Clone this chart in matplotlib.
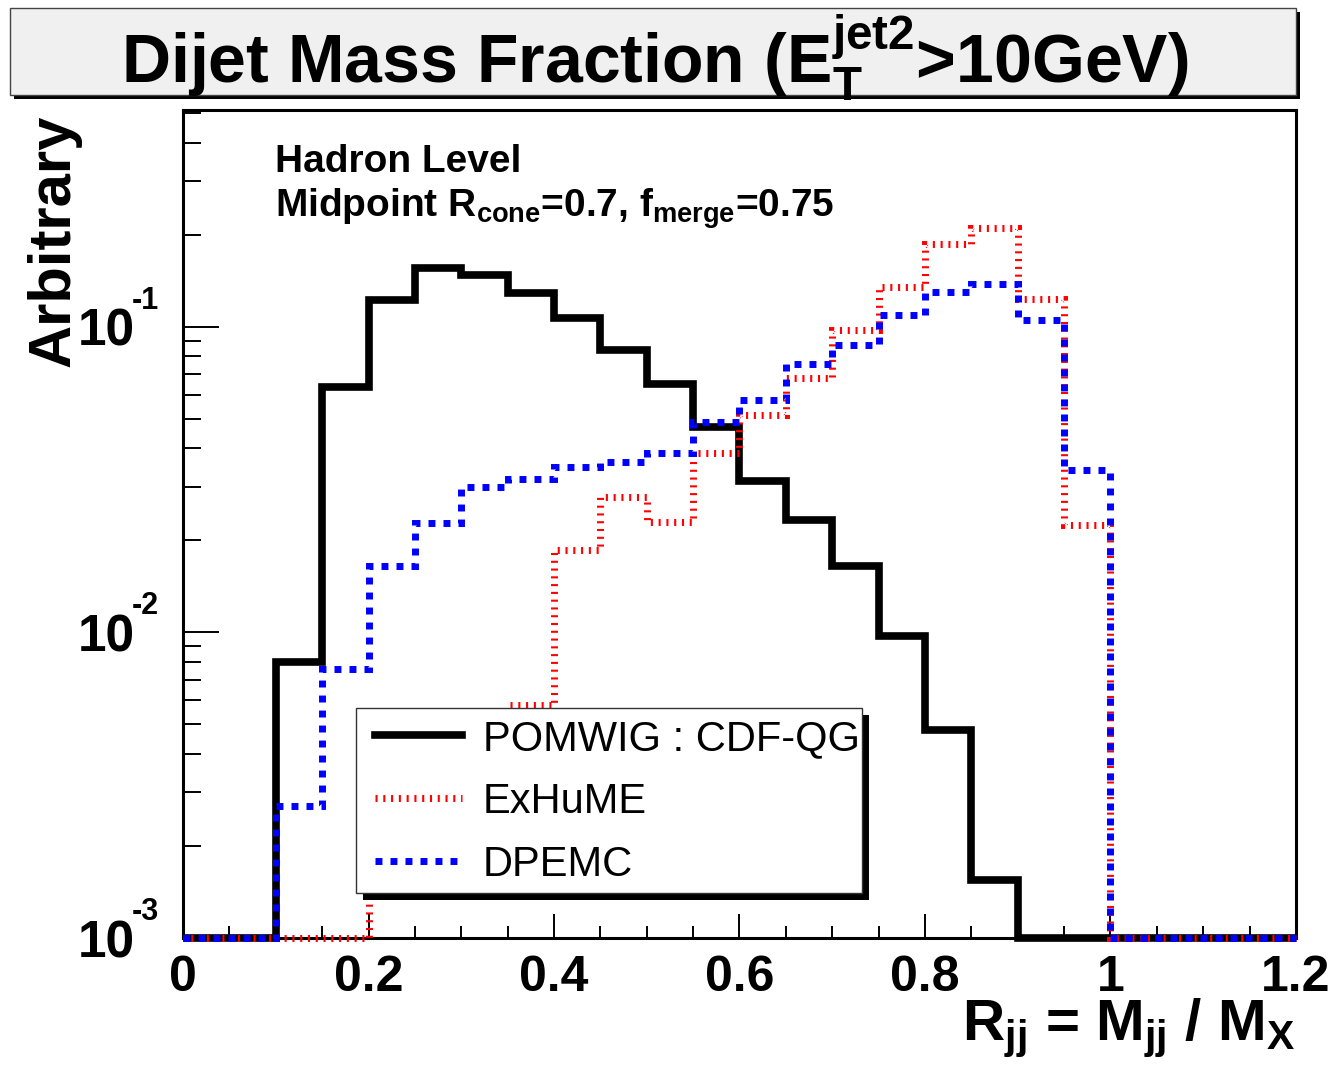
import numpy as np
import matplotlib
matplotlib.use("Agg")
import matplotlib.pyplot as plt
import matplotlib.transforms as mtransforms
from matplotlib.patches import Rectangle

plt.rcParams['font.family'] = ['Liberation Sans', 'DejaVu Sans']
plt.rcParams['font.weight'] = 'bold'
plt.rcParams['mathtext.fontset'] = 'custom'
plt.rcParams['mathtext.rm'] = 'Liberation Sans:bold'
plt.rcParams['mathtext.it'] = 'Liberation Sans:bold'
plt.rcParams['mathtext.bf'] = 'Liberation Sans:bold'
plt.rcParams['mathtext.sf'] = 'Liberation Sans:bold'
plt.rcParams['lines.scale_dashes'] = False

# R_jj bins, 0.05 wide
edges = np.round(np.arange(0, 1.2001, 0.05), 2)

pomwig = [0, 0, 0.0080, 0.0636, 0.1226, 0.156, 0.148, 0.129, 0.107, 0.0841,
          0.0651, 0.0471, 0.0313, 0.0233, 0.0165, 0.00974, 0.0048, 0.00155,
          0, 0, 0, 0, 0, 0]
exhume = [0, 0, 0, 0, 0.0025, 0.0035, 0.0045, 0.0058, 0.0186, 0.0278,
          0.0230, 0.0387, 0.0515, 0.0681, 0.0978, 0.135, 0.187, 0.211,
          0.1235, 0.0225, 0, 0, 0, 0]
dpemc = [0, 0, 0.0027, 0.0076, 0.0165, 0.0228, 0.0299, 0.0318, 0.0348, 0.0362,
         0.0387, 0.0489, 0.0577, 0.0757, 0.0873, 0.1094, 0.130, 0.138,
         0.1054, 0.0340, 0, 0, 0, 0]

labels = ['POMWIG : CDF-QG', 'ExHuME', 'DPEMC']
xticks = [0, 0.2, 0.4, 0.6, 0.8, 1.0, 1.2]
xticklabels = ['0', '0.2', '0.4', '0.6', '0.8', '1', '1.2']
yticks = [1e-3, 1e-2, 1e-1]
yexponents = ['-3', '-2', '-1']

ymin, ymax = 1e-3, 0.513

fig = plt.figure(figsize=(13.36, 10.66), dpi=100)
ax = fig.add_axes([0.137, 0.120, 0.833, 0.777])

def floor(v):
    # empty bins sit on the lower edge of the frame
    return np.clip(np.asarray(v, dtype=float), ymin, None)

h1 = ax.stairs(floor(pomwig), edges, baseline=None, color='black', lw=5.5,
               joinstyle='miter', clip_on=False, zorder=2, label=labels[0])
h2 = ax.stairs(floor(exhume), edges, baseline=None, color='red', lw=5,
               linestyle=(0, (1.5, 4.1)), clip_on=False, zorder=3, label=labels[1])
h3 = ax.stairs(floor(dpemc), edges, baseline=None, color='blue', lw=5,
               linestyle=(0, (5, 5.8)), clip_on=False, zorder=4, label=labels[2])

ax.set_yscale('log')
ax.set_xlim(0, 1.2)
ax.set_ylim(ymin, ymax)

ax.set_xticks(xticks, xticklabels)
ax.set_xticks(edges, minor=True)
ax.set_yticks(yticks, ['10'] * len(yticks))
ax.yaxis.set_minor_formatter(plt.NullFormatter())

ax.tick_params(which='both', direction='in', top=False, right=False, width=1.4)
ax.tick_params(axis='x', which='major', length=17, labelsize=36, pad=12)
ax.tick_params(axis='x', which='minor', length=9)
ax.tick_params(axis='y', which='major', length=26, labelsize=37, pad=35)
ax.tick_params(axis='y', which='minor', length=13)
for lab in ax.get_xticklabels() + ax.get_yticklabels():
    lab.set_fontweight('bold')
for sp in ax.spines.values():
    sp.set_linewidth(2.2)

# exponents of the decade labels, raised above the "10"
exp_tr = mtransforms.offset_copy(ax.get_yaxis_transform(), fig=fig, y=13, units='points')
for yv, ex in zip(yticks, yexponents):
    ax.text(-0.0458, yv, ex, transform=exp_tr, ha='left', va='baseline',
            fontsize=22, fontweight='bold', clip_on=False)

ax.set_ylabel('Arbitrary', fontsize=43, fontweight='bold')
ax.yaxis.set_label_coords(-0.0916, 0.842)
ax.text(1.0, -0.1235, r'R$_{\rm jj}$ = M$_{\rm jj}$ / M$_{\rm X}$', transform=ax.transAxes,
        ha='right', va='baseline', fontsize=42, fontweight='bold')

ax.text(0.0827, 0.925, 'Hadron Level', transform=ax.transAxes,
        fontsize=28, fontweight='bold', va='baseline')
ax.text(0.0827, 0.871, r'Midpoint R$_{\rm cone}$=0.7, f$_{\rm merge}$=0.75',
        transform=ax.transAxes, fontsize=28, fontweight='bold', va='baseline')

# legend box with a solid drop shadow
lx, ly, lw_, lh = 0.155, 0.0543, 0.455, 0.2234
ax.add_patch(Rectangle((lx + 0.0063, ly - 0.0085), lw_, lh, transform=ax.transAxes,
                       facecolor='black', edgecolor='none', zorder=8, clip_on=False))
ax.add_patch(Rectangle((lx, ly), lw_, lh, transform=ax.transAxes,
                       facecolor='white', edgecolor='#333333', lw=1, zorder=9, clip_on=False))
leg = ax.legend(handles=[h1, h2, h3], loc='upper left',
                bbox_to_anchor=((375 - 183) / 1113, (938 - 719) / 828),
                frameon=False, borderpad=0, borderaxespad=0,
                handlelength=2.09, handletextpad=0.5, labelspacing=0.55,
                prop={'family': 'Liberation Sans', 'weight': 'normal', 'size': 30})
leg.set_zorder(10)

# title box
fig.patches.append(Rectangle((14 / 1336, 1 - 99 / 1066), 1286 / 1336, 87 / 1066,
                             transform=fig.transFigure, facecolor='black',
                             edgecolor='none', zorder=0))
fig.patches.append(Rectangle((10 / 1336, 1 - 95 / 1066), 1286 / 1336, 87 / 1066,
                             transform=fig.transFigure, facecolor='#f0f0f0',
                             edgecolor='#444444', lw=1, zorder=1))
fig.text(0.490, 1 - 83 / 1066, r'Dijet Mass Fraction (E$_{\rm T}^{\rm jet2}$>10GeV)',
         ha='center', va='baseline', fontsize=49, fontweight='bold')

fig.savefig('out.png', dpi=100)
